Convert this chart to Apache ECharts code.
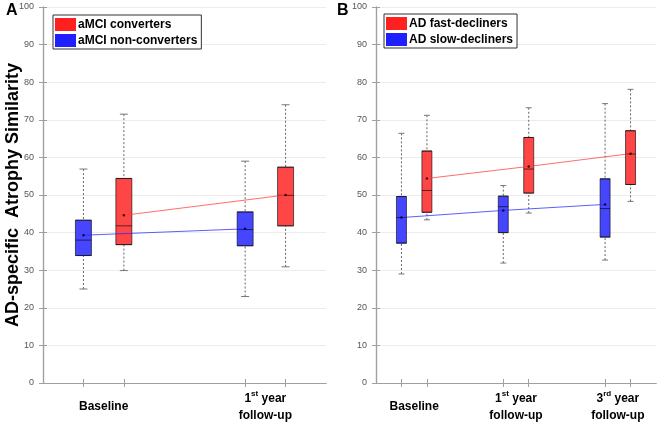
<!DOCTYPE html>
<html>
<head>
<meta charset="utf-8">
<script src="https://cdn.jsdelivr.net/npm/echarts@6/dist/echarts.min.js"></script>
<style>
  html, body { margin: 0; padding: 0; background: #fff; }
  #chart { width: 660px; height: 422px; }
</style>
</head>
<body>
<div id="chart"></div>
<script>
// box stats per time point: [min, Q1, median, Q3, max]
var timeLabelsA = ['Baseline', '1st year follow-up'];
var convertersA = [[29.9, 36.8, 41.8, 54.4, 71.5], [30.9, 41.8, 49.9, 57.4, 74.0]];
var convertersMeanA = [44.6, 50.0];
var nonConvertersA = [[25.0, 33.9, 38.0, 43.3, 56.9], [23.0, 36.5, 40.8, 45.5, 59.0]];
var nonConvertersMeanA = [39.3, 41.0];

var timeLabelsB = ['Baseline', '1st year follow-up', '3rd year follow-up'];
var fastB = [[43.4, 45.4, 51.2, 61.7, 71.2], [45.2, 50.5, 56.9, 65.3, 73.2], [48.3, 52.8, 60.9, 67.1, 78.1]];
var fastMeanB = [54.4, 57.6, 61.0];
var slowB = [[29.0, 37.2, 44.0, 49.6, 66.4], [31.9, 40.0, 46.9, 49.7, 52.5], [32.7, 38.8, 46.4, 54.3, 74.3]];
var slowMeanB = [44.0, 45.9, 47.5];

var RED = '#ff4646', BLUE = '#4646ff';
var FRAME = '#a0a0a0';
var FONT = 'Liberation Sans, Arial, sans-serif';

// box positions: group i -> blue at 4i+1, red at 4i+2
function posOf(i, off) { return i * 4 + off; }

function timeFormatter(labels) {
  return function (v) {
    var i = Math.round((v - 1.5) / 4);
    var t = labels[i];
    if (!t) return '';
    if (t === 'Baseline') return '{b|Baseline}';
    var m = t.match(/^(\d)(st|nd|rd|th) year (.*)$/);
    return '{b|' + m[1] + '}{sup|' + m[2] + '}{b| year}\n{b|' + m[3] + '}';
  };
}

function axesFor(g, n, labels, withName) {
  var max = n * 4 - 1;
  var ticks = [];
  var labs = [];
  for (var i = 0; i < n; i++) { ticks.push(posOf(i, 1), posOf(i, 2)); labs.push(posOf(i, 1.5)); }
  var x = [{
    type: 'value', gridIndex: g, min: 0, max: max, position: 'bottom',
    axisLine: { lineStyle: { color: FRAME, width: 1.2 } },
    axisTick: { inside: true, length: 4, customValues: ticks, lineStyle: { color: FRAME } },
    axisLabel: {
      customValues: labs, formatter: timeFormatter(labels), margin: 24, verticalAlign: 'middle',
      rich: {
        b: { fontSize: 12, fontWeight: 'bold', color: '#000', fontFamily: FONT, lineHeight: 17 },
        sup: { fontSize: 8, fontWeight: 'bold', color: '#000', fontFamily: FONT, verticalAlign: 'top', lineHeight: 17 }
      }
    },
    splitLine: { show: false }
  }, {
    type: 'value', gridIndex: g, min: 0, max: max, position: 'top',
    axisLine: { lineStyle: { color: FRAME, width: 1.2 } },
    axisTick: { inside: true, length: 4, customValues: ticks, lineStyle: { color: FRAME } },
    axisLabel: { show: false }, splitLine: { show: false }
  }];
  var y = [{
    type: 'value', gridIndex: g, min: 0, max: 100, interval: 10, position: 'left',
    name: withName ? 'AD-specific  Atrophy Similarity' : '',
    nameLocation: 'middle', nameGap: 21, nameMoveOverlap: false,
    nameTextStyle: { fontSize: 18, fontWeight: 'bold', color: '#000', fontFamily: FONT },
    axisLine: { show: true, lineStyle: { color: FRAME, width: 1.2 } },
    axisTick: { show: true, inside: true, length: 4, lineStyle: { color: FRAME } },
    axisLabel: { fontSize: 9, color: '#555', margin: 9, fontFamily: FONT },
    splitLine: { show: true, lineStyle: { color: '#ececec', width: 1 } }
  }, {
    type: 'value', gridIndex: g, min: 0, max: 100, interval: 10, position: 'right',
    axisLine: { show: true, lineStyle: { color: FRAME, width: 1.2 } },
    axisTick: { show: true, inside: true, length: 4, lineStyle: { color: FRAME } },
    axisLabel: { show: false }, splitLine: { show: false }
  }];
  return { x: x, y: y };
}

// one boxplot series per panel so boxes are not dodged
function panelSeries(g, groups, boxW, capW) {
  var xi = g * 2, yi = g * 2;
  var items = [];
  groups.forEach(function (gr) {
    gr.stats.forEach(function (s, i) {
      items.push({ x: posOf(i, gr.off), s: s, color: gr.color });
    });
  });
  var out = [];
  // dotted whiskers with solid caps
  out.push({
    type: 'custom', xAxisIndex: xi, yAxisIndex: yi, silent: true, z: 2,
    data: items.map(function (it) { return [it.x, it.s[0], it.s[1], it.s[3], it.s[4]]; }),
    renderItem: function (params, api) {
      var x = api.value(0);
      var lo = api.coord([x, api.value(1)]);
      var q1 = api.coord([x, api.value(2)]);
      var q3 = api.coord([x, api.value(3)]);
      var hi = api.coord([x, api.value(4)]);
      var dot = { stroke: '#666', lineWidth: 1, lineDash: [2, 2] };
      var cap = { stroke: '#777', lineWidth: 1 };
      return { type: 'group', children: [
        { type: 'line', shape: { x1: hi[0], y1: hi[1], x2: q3[0], y2: q3[1] }, style: dot },
        { type: 'line', shape: { x1: lo[0], y1: lo[1], x2: q1[0], y2: q1[1] }, style: dot },
        { type: 'line', shape: { x1: hi[0] - capW / 2, y1: hi[1], x2: hi[0] + capW / 2, y2: hi[1] }, style: cap },
        { type: 'line', shape: { x1: lo[0] - capW / 2, y1: lo[1], x2: lo[0] + capW / 2, y2: lo[1] }, style: cap }
      ] };
    }
  });
  // boxes (whiskers collapsed onto the box edges)
  out.push({
    type: 'boxplot', xAxisIndex: xi, yAxisIndex: yi, silent: true, z: 3,
    boxWidth: [boxW, boxW],
    itemStyle: { borderColor: 'rgba(0,0,0,0.6)', borderWidth: 1 },
    data: items.map(function (it) {
      return { value: [it.x, it.s[1], it.s[1], it.s[2], it.s[3], it.s[3]], itemStyle: { color: it.color } };
    })
  });
  groups.forEach(function (gr) {
    var pts = gr.means.map(function (m, i) { return [posOf(i, gr.off), m]; });
    // mean trend line (named for the legend)
    out.push({
      type: 'line', name: gr.name, xAxisIndex: xi, yAxisIndex: yi, silent: true, z: 4,
      symbol: 'none', color: gr.color, lineStyle: { color: gr.lineColor, width: 1 },
      data: pts
    });
    // mean dots
    out.push({
      type: 'scatter', xAxisIndex: xi, yAxisIndex: yi, silent: true, z: 5,
      symbolSize: 2.5, itemStyle: { color: '#000' }, data: pts
    });
  });
  return out;
}

var axA = axesFor(0, 2, timeLabelsA, true);
var axB = axesFor(1, 3, timeLabelsB, false);

function legendFor(left, top, red, blue) {
  return {
    left: left, top: top, orient: 'vertical',
    itemWidth: 21, itemHeight: 13, itemGap: 3,
    padding: [3, 4, 2, 2],
    borderColor: '#333', borderWidth: 1, backgroundColor: '#fff',
    selectedMode: false,
    textStyle: { fontSize: 12, fontWeight: 'bold', color: '#000', fontFamily: FONT, padding: [0, 0, 0, -3] },
    data: [
      { name: red, icon: 'rect', itemStyle: { color: '#ff2020', borderWidth: 0 } },
      { name: blue, icon: 'rect', itemStyle: { color: '#2020ff', borderWidth: 0 } }
    ]
  };
}

var option = {
  animation: false,
  backgroundColor: '#fff',
  title: [
    { text: 'A', left: 6, top: 3, padding: 0, textStyle: { fontSize: 16, fontWeight: 'bold', color: '#000', fontFamily: FONT } },
    { text: 'B', left: 337, top: 3, padding: 0, textStyle: { fontSize: 16, fontWeight: 'bold', color: '#000', fontFamily: FONT } }
  ],
  grid: [
    { left: 43, right: 334, top: 7, bottom: 39, outerBoundsMode: 'none' },
    { left: 376, right: 4, top: 7, bottom: 39, outerBoundsMode: 'none' }
  ],
  legend: [
    legendFor(53, 15, 'aMCI converters', 'aMCI non-converters'),
    legendFor(384, 14, 'AD fast-decliners', 'AD slow-decliners')
  ],
  xAxis: axA.x.concat(axB.x),
  yAxis: axA.y.concat(axB.y),
  series: [].concat(
    panelSeries(0, [
      { name: 'aMCI non-converters', stats: nonConvertersA, means: nonConvertersMeanA, off: 1, color: BLUE, lineColor: 'rgba(40,40,255,0.75)' },
      { name: 'aMCI converters', stats: convertersA, means: convertersMeanA, off: 2, color: RED, lineColor: 'rgba(255,60,60,0.75)' }
    ], 16, 8),
    panelSeries(1, [
      { name: 'AD slow-decliners', stats: slowB, means: slowMeanB, off: 1, color: BLUE, lineColor: 'rgba(40,40,255,0.75)' },
      { name: 'AD fast-decliners', stats: fastB, means: fastMeanB, off: 2, color: RED, lineColor: 'rgba(255,60,60,0.75)' }
    ], 10, 6)
  )
};

var chart = echarts.init(document.getElementById('chart'), null, { renderer: 'canvas' });
chart.setOption(option);
</script>
</body>
</html>
